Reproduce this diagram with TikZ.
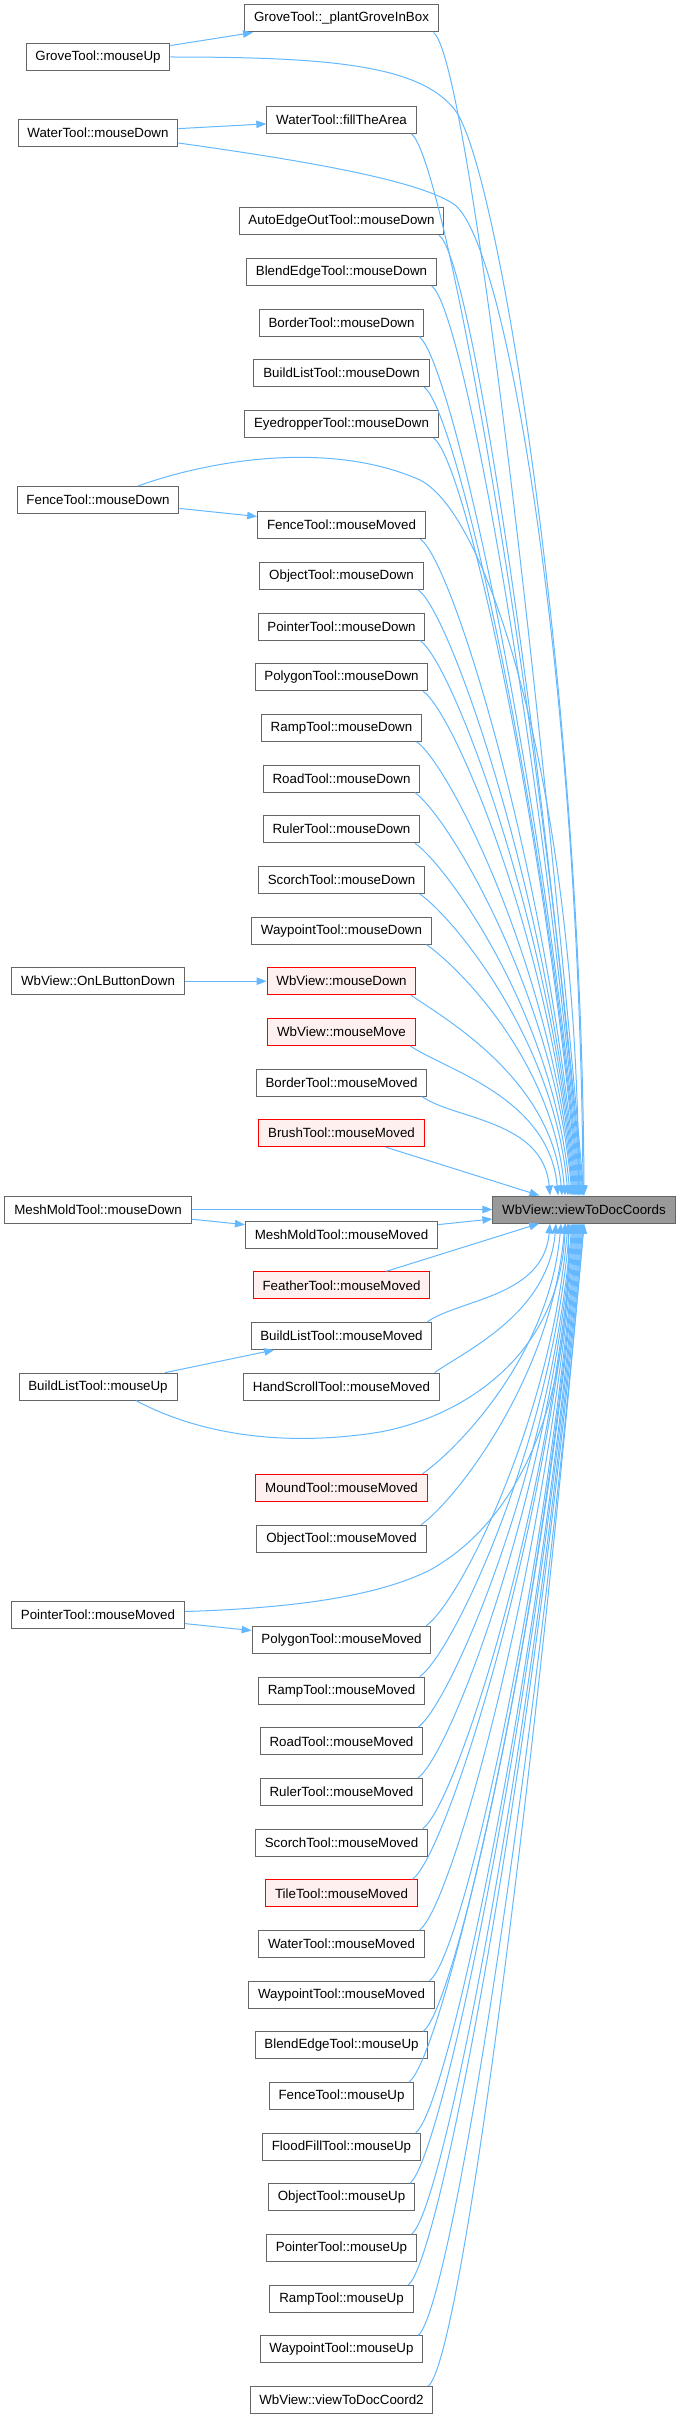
\documentclass[tikz,border=0pt]{standalone}
\usepackage{fontspec}
\setmainfont{Liberation Sans}
\usetikzlibrary{arrows.meta}
\definecolor{edgeblue}{HTML}{63B8FF}
\definecolor{boxgray}{HTML}{666666}
\definecolor{redfill}{HTML}{FFF0F0}
\definecolor{tgtfill}{HTML}{999999}
\tikzset{
  fn/.style={draw=boxgray, fill=white, line width=0.75pt, inner xsep=7pt, inner ysep=0pt, minimum height=20.25pt, font=\fontsize{10}{12}\selectfont},
  fnred/.style={fn, draw=red, fill=redfill},
  fntgt/.style={fn, fill=tgtfill},
  calledge/.style={draw=edgeblue, line width=0.75pt, -{Triangle[length=7.5pt,width=5.6pt]}},
  callup/.style={out=-35, in=95, out distance=30pt, in looseness=1.2},
  calldn/.style={out=35, in=-95, out distance=30pt, in looseness=1.2}
}
\begin{document}
\begin{tikzpicture}[x=0.75pt, y=-0.75pt]
    \useasboundingbox (0,0) rectangle (683,2419);
    % called function
    \node[fntgt] (tgt) at (584,1209.5) {WbView::viewToDocCoords};
    % left column
    \node[fn] (grovemu) at (98,57) {GroveTool::mouseUp};
    \node[fn] (watermd) at (98,133) {WaterTool::mouseDown};
    \node[fn] (fencemd) at (98,500) {FenceTool::mouseDown};
    \node[fn] (wbonlbd) at (98,981.2) {WbView::OnLButtonDown};
    \node[fn] (meshmoldmd) at (98,1209.5) {MeshMoldTool::mouseDown};
    \node[fn] (buildlistmu) at (98,1386.6) {BuildListTool::mouseUp};
    \node[fn] (pointermm) at (98,1614.5) {PointerTool::mouseMoved};
    % middle column
    \node[fn] (plantgrove) at (341.5,18.5) {GroveTool::\_plantGroveInBox};
    \node[fn] (fillthearea) at (341.5,119.8) {WaterTool::fillTheArea};
    \node[fn] (autoedgedown) at (341.5,221.2) {AutoEdgeOutTool::mouseDown};
    \node[fn] (blenddown) at (341.5,271.9) {BlendEdgeTool::mouseDown};
    \node[fn] (borderdown) at (341.5,322.5) {BorderTool::mouseDown};
    \node[fn] (buildlistdown) at (341.5,373.2) {BuildListTool::mouseDown};
    \node[fn] (eyedropperdown) at (341.5,423.9) {EyedropperTool::mouseDown};
    \node[fn] (fencemoved) at (341.5,525.2) {FenceTool::mouseMoved};
    \node[fn] (objectdown) at (341.5,575.9) {ObjectTool::mouseDown};
    \node[fn] (pointerdown) at (341.5,626.5) {PointerTool::mouseDown};
    \node[fn] (polygondown) at (341.5,677.2) {PolygonTool::mouseDown};
    \node[fn] (rampdown) at (341.5,727.9) {RampTool::mouseDown};
    \node[fn] (roaddown) at (341.5,778.6) {RoadTool::mouseDown};
    \node[fn] (rulerdown) at (341.5,829.2) {RulerTool::mouseDown};
    \node[fn] (scorchdown) at (341.5,879.9) {ScorchTool::mouseDown};
    \node[fn] (waypointdown) at (341.5,930.6) {WaypointTool::mouseDown};
    \node[fnred] (wbmousedown) at (341.5,981.2) {WbView::mouseDown};
    \node[fnred] (wbmousemove) at (341.5,1031.9) {WbView::mouseMove};
    \node[fn] (bordermoved) at (341.5,1082.6) {BorderTool::mouseMoved};
    \node[fnred] (brushmoved) at (341.5,1133.2) {BrushTool::mouseMoved};
    \node[fn] (meshmoldmoved) at (341.5,1234.6) {MeshMoldTool::mouseMoved};
    \node[fnred] (feathermoved) at (341.5,1285.3) {FeatherTool::mouseMoved};
    \node[fn] (buildlistmoved) at (341.5,1335.9) {BuildListTool::mouseMoved};
    \node[fn] (handscrollmoved) at (341.5,1386.6) {HandScrollTool::mouseMoved};
    \node[fnred] (moundmoved) at (341.5,1487.9) {MoundTool::mouseMoved};
    \node[fn] (objectmoved) at (341.5,1538.6) {ObjectTool::mouseMoved};
    \node[fn] (polygonmoved) at (341.5,1639.9) {PolygonTool::mouseMoved};
    \node[fn] (rampmoved) at (341.5,1690.6) {RampTool::mouseMoved};
    \node[fn] (roadmoved) at (341.5,1741.3) {RoadTool::mouseMoved};
    \node[fn] (rulermoved) at (341.5,1791.9) {RulerTool::mouseMoved};
    \node[fn] (scorchmoved) at (341.5,1842.6) {ScorchTool::mouseMoved};
    \node[fnred] (tilemoved) at (341.5,1893.3) {TileTool::mouseMoved};
    \node[fn] (watermoved) at (341.5,1944) {WaterTool::mouseMoved};
    \node[fn] (waypointmoved) at (341.5,1994.6) {WaypointTool::mouseMoved};
    \node[fn] (blendup) at (341.5,2045.3) {BlendEdgeTool::mouseUp};
    \node[fn] (fenceup) at (341.5,2096) {FenceTool::mouseUp};
    \node[fn] (floodfillup) at (341.5,2146.6) {FloodFillTool::mouseUp};
    \node[fn] (objectup) at (341.5,2197.3) {ObjectTool::mouseUp};
    \node[fn] (pointerup) at (341.5,2248) {PointerTool::mouseUp};
    \node[fn] (rampup) at (341.5,2298.7) {RampTool::mouseUp};
    \node[fn] (waypointup) at (341.5,2349.3) {WaypointTool::mouseUp};
    \node[fn] (coordtwo) at (341.5,2400) {WbView::viewToDocCoord2};
    % callers of callers
    \draw[calledge] (grovemu) -- (plantgrove);
    \draw[calledge] (watermd) -- (fillthearea);
    \draw[calledge] (fencemd) -- (fencemoved);
    \draw[calledge] (wbonlbd) -- (wbmousedown);
    \draw[calledge] (meshmoldmd) -- (meshmoldmoved);
    \draw[calledge] (buildlistmu) -- (buildlistmoved);
    \draw[calledge] (pointermm) -- (polygonmoved);
    % long edges from the left column
    \draw[calledge] (grovemu.east) .. controls (330,57) and (420,65) .. (455,110)
        .. controls (500,170) and (582,700) .. (tgt.north);
    \draw[calledge] ([yshift=-7.5pt]watermd.east) .. controls (300,160) and (420,180) .. (455,205)
        .. controls (510,250) and (580,700) .. ([xshift=-0.75pt]tgt.north);
    \draw[calledge] ([xshift=30pt]fencemd.north) .. controls (210,460) and (330,440) .. (420,480)
        .. controls (490,515) and (578,800) .. ([xshift=-4pt]tgt.north);
    \draw[calledge] (meshmoldmd) -- (tgt);
    \draw[calledge] ([xshift=28.5pt]buildlistmu.south) .. controls (210,1440) and (300,1445) .. (380,1432)
        .. controls (470,1415) and (560,1350) .. ([xshift=-14pt]tgt.south);
    \draw[calledge] ([yshift=2.25pt]pointermm.east) .. controls (300,1608) and (380,1595) .. (430,1570)
        .. controls (520,1520) and (572,1400) .. ([xshift=-12pt]tgt.south);
    % middle column into the called function
    \foreach \src/\off in {plantgrove/0, fillthearea/0.75, autoedgedown/1.5, blenddown/2.25,
        borderdown/3, buildlistdown/3.75, eyedropperdown/4.5, fencemoved/5.25, objectdown/6,
        pointerdown/6.75, polygondown/7.5, rampdown/8.25, roaddown/9, rulerdown/10.5,
        scorchdown/12, waypointdown/14.25, wbmousedown/16.5, wbmousemove/19.5, bordermoved/25.5}
        \draw[calledge] ([xshift=-4pt]\src.south east) to[callup] ([xshift=-\off pt]tgt.north);
    \draw[calledge] (brushmoved) -- (tgt);
    \draw[calledge] (meshmoldmoved) -- (tgt);
    \draw[calledge] (feathermoved) -- (tgt);
    \foreach \src/\off in {buildlistmoved/25.5, handscrollmoved/21, moundmoved/17.25,
        objectmoved/14.25, polygonmoved/12, rampmoved/10.5, roadmoved/9, rulermoved/8.25,
        scorchmoved/7.5, tilemoved/6.75, watermoved/6, waypointmoved/5.25, blendup/4.5,
        fenceup/3.75, floodfillup/3, objectup/2.25, pointerup/1.5, rampup/0.75,
        waypointup/0, coordtwo/0}
        \draw[calledge] ([xshift=-4pt]\src.north east) to[calldn] ([xshift=-\off pt]tgt.south);
\end{tikzpicture}
\end{document}
